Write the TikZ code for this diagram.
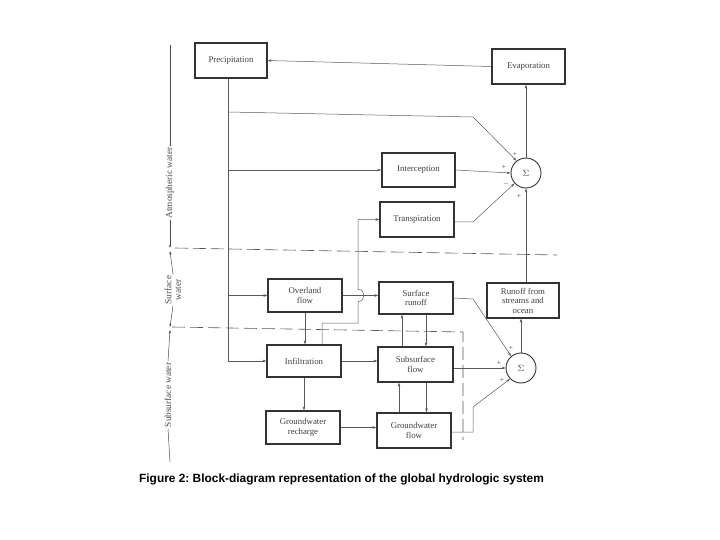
\documentclass[tikz,border=0pt]{standalone}
\usepackage{fontspec}
\setmainfont{Liberation Serif}
\setsansfont{Liberation Sans}
\usetikzlibrary{calc,arrows.meta}
\frenchspacing
\begin{document}
\begin{tikzpicture}[x=1pt,y=-1pt,
  box/.style={draw=black!80, line width=1.1pt, inner sep=1pt, align=center,
    font=\fontsize{8.8}{9.5}\selectfont, text=black!75},
  sig/.style={draw=black!80, line width=0.9pt, circle, minimum size=30pt, inner sep=0pt,
    font=\fontsize{9}{10}\selectfont, text=black!75},
  conn/.style={draw=black!65, line width=0.5pt, -{Stealth[length=4pt,width=2.6pt]}},
  bound/.style={draw=black!65, line width=0.6pt, dash pattern=on 13pt off 5pt},
  dimline/.style={draw=black!70, line width=0.5pt},
  sign/.style={font=\fontsize{7.5}{7.5}\selectfont, text=black!75, inner sep=0pt},
  side/.style={rotate=90, font=\fontsize{9.3}{9.5}\selectfont, text=black!70, align=center, inner sep=1.5pt}
]
\useasboundingbox (0,0) rectangle (720,540);

% boxes
\node[box, minimum width=72pt, minimum height=35pt] (precip) at (231,60.5) {Precipitation};
\node[box, minimum width=73pt, minimum height=35pt] (evap) at (528.5,66.5) {Evaporation};
\node[box, minimum width=73pt, minimum height=34pt] (intc) at (418.5,170) {Interception};
\node[box, minimum width=74pt, minimum height=35pt] (transp) at (417,219.5) {Transpiration};
\node[sig] (s1) at (526,173) {$\Sigma$};
\node[box, minimum width=74pt, minimum height=33pt] (over) at (305,295.5) {Overland\\flow};
\node[box, minimum width=74pt, minimum height=32pt] (surf) at (416,298) {Surface\\runoff};
\node[box, minimum width=72pt, minimum height=35pt] (runoff) at (523,300.5) {Runoff from\\streams and\\ocean};
\node[box, minimum width=74pt, minimum height=32pt] (infil) at (304,361) {Infiltration};
\node[box, minimum width=75pt, minimum height=35pt] (sub) at (415.5,364.5) {Subsurface\\flow};
\node[sig] (s2) at (521,368) {$\Sigma$};
\node[box, minimum width=74pt, minimum height=33pt] (gwr) at (303,427.5) {Groundwater\\recharge};
\node[box, minimum width=74pt, minimum height=35pt] (gwf) at (414,430.5) {Groundwater\\flow};

% boundaries
\draw[bound] (175,248) -- (557,255);
\draw[bound] (172,327) -- (463,332) -- (463,440);

% left dimension lines and labels
\node[side] (atm) at (170,183) {Atmospheric water};
\node[side] (sw) at (173,290) {Surface\\water};
\node[side] (ssw) at (168,395) {Subsurface water};
\coordinate (d0) at (170,45);
\coordinate (d1) at (170,248);
\coordinate (d2) at (170,251);
\coordinate (d3) at (170,327);
\coordinate (d4) at (170,330);
\coordinate (d5) at (170,462);
\draw[dimline] (d0) -- (atm.east);
\draw[dimline,-{Stealth[length=3.5pt,width=2.3pt]}] (atm.west) -- (d1);
\draw[dimline,-{Stealth[length=3.5pt,width=2.3pt]}] (sw.east) -- (d2);
\draw[dimline,-{Stealth[length=3.5pt,width=2.3pt]}] (sw.west) -- (d3);
\draw[dimline,-{Stealth[length=3.5pt,width=2.3pt]}] (ssw.east) -- (d4);
\draw[dimline] (ssw.west) -- (d5);

% precipitation trunk
\coordinate (px) at (228,0);
\draw[conn] (precip.south -| px) |- (infil.west);
\coordinate (b1) at (228,112);
\coordinate (k1) at (473,117);
\draw[conn] (b1) -- (k1) -- (s1.128);
\draw[conn] (intc.west -| px) -- (intc.west);
\draw[conn] (over.west -| px) -- (over.west);

% atmospheric sigma
\draw[conn] (evap.west) -- (precip.east);
\draw[conn] (s1.north) -- (s1.north |- evap.south);
\draw[conn] (intc.east) -- (s1.west);
\coordinate (k2) at (473,222);
\draw[conn] (transp.east |- k2) -- (k2) -- (s1.222);
\draw[conn] (s1.south |- runoff.north) -- (s1.south);
\node[sign] (p1) at (515,154) {+};
\node[sign] (p2) at (504,167) {+};
\node[sign] (m1) at (506,184) {$-$};
\node[sign] (p3) at (519,196) {+};

% surface water
\draw[conn] (over.east) -- (over.east -| surf.west);
\draw[conn] (over.south) -- (over.south |- infil.north);
\coordinate (j1) at (322,323);
\coordinate (j2) at (358,323);
\draw[conn] (infil.north -| j1) -- (j1) -- (j2)
  -- ($(j2 |- over.east)+(0,6)$) .. controls +(8,0) and +(8,0) .. ($(j2 |- over.east)+(0,-6)$)
  -- (j2 |- transp.west) -- (transp.west);
\coordinate (k3) at (473,299);
\draw[conn] (surf.east) -- (k3) -- (s2.130);
\draw[conn] ([xshift=-13.5pt]sub.north) -- ([xshift=-13.5pt]sub.north |- surf.south);
\draw[conn] ([xshift=10pt]surf.south) -- ([xshift=10pt]surf.south |- sub.north);
\draw[conn] (s2.north) -- (s2.north |- runoff.south);

% subsurface
\draw[conn] (infil.east) -- (infil.east -| sub.west);
\draw[conn] (s2.west -| sub.east) -- (s2.west);
\draw[conn] (infil.south) -- (infil.south |- gwr.north);
\draw[conn] (gwr.east) -- (gwr.east -| gwf.west);
\draw[conn] ([xshift=11pt]sub.south) -- ([xshift=11pt]sub.south |- gwf.north);
\draw[conn] ([xshift=-15pt]gwf.north) -- ([xshift=-15pt]gwf.north |- sub.south);
\coordinate (k4) at (473,432);
\coordinate (k5) at (473,407);
\draw[conn] (gwf.east |- k4) -- (k4) -- (k5) -- (s2.225);
\node[sign] (p4) at (511,348) {+};
\node[sign] (p5) at (499,363) {+};
\node[sign] (p6) at (502,380) {+};

% caption
\node[font=\sffamily\bfseries\fontsize{11.9}{13}\selectfont, inner sep=0pt] (cap) at (341.5,479) {Figure 2: Block-diagram representation of the global hydrologic system};
\end{tikzpicture}
\end{document}
